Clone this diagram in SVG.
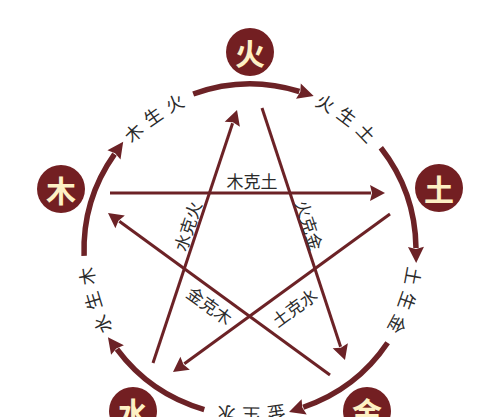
<svg xmlns="http://www.w3.org/2000/svg" xmlns:xlink="http://www.w3.org/1999/xlink" width="500" height="417" viewBox="0 0 500 417">
<style>
.ring{fill:none;stroke:#6c2226;stroke-width:5.5}
.kline{fill:none;stroke:#6c2226;stroke-width:3}
.node circle{fill:#731f22}
.node text{font-family:"Noto Sans CJK SC",sans-serif;font-size:30px;font-weight:700;fill:#fdf0c4;text-anchor:middle;dominant-baseline:central}
.lbl{font-family:"Noto Sans CJK SC",sans-serif;font-size:17px;fill:#2b2b2b;text-anchor:middle;dominant-baseline:central}
.sheng{font-size:18px;letter-spacing:7.5px}
</style>
<defs>
<marker id="ar" markerUnits="userSpaceOnUse" viewBox="0 -9 18 18" markerWidth="18" markerHeight="18" refX="1" refY="0" orient="auto" overflow="visible">
<path d="M0,-8 L16,0 L0,8 L2,0 z" fill="#6c2226"/>
</marker>
<marker id="ak" markerUnits="userSpaceOnUse" viewBox="0 -9 18 18" markerWidth="18" markerHeight="18" refX="1" refY="0" orient="auto" overflow="visible">
<path d="M0,-8 L15,0 L0,8 L2,0 z" fill="#6c2226"/>
</marker>
<path id="circ" d="M250,84 A166,166 0 1 1 250,416 A166,166 0 1 1 250,84"/>
</defs>
<rect width="500" height="417" fill="#ffffff"/>

<g id="connectors">
<path class="ring" marker-end="url(#ar)" d="M193.22,94.01 A166,166 0 0 1 299.37,91.50"/>
<path class="ring" marker-end="url(#ar)" d="M380.81,147.79 A166,166 0 0 1 415.99,247.97"/>
<path class="ring" marker-end="url(#ar)" d="M387.62,342.83 A166,166 0 0 1 303.22,407.24"/>
<path class="ring" marker-end="url(#ar)" d="M204.25,409.57 A166,166 0 0 1 116.90,349.20"/>
<path class="ring" marker-end="url(#ar)" d="M84.10,255.79 A166,166 0 0 1 114.53,154.07"/>

<path class="kline" marker-end="url(#ak)" d="M110,193 L371,193"/>
<path class="kline" marker-end="url(#ak)" d="M262,108 L340.6,346.7"/>
<path class="kline" marker-end="url(#ak)" d="M390,214 L184.3,363.8"/>
<path class="kline" marker-end="url(#ak)" d="M330,375 L119.3,221.3"/>
<path class="kline" marker-end="url(#ak)" d="M153,363 L232.6,123.3"/>
</g>

<g id="sheng-labels">
<text class="lbl sheng"><textPath xlink:href="#circ" href="#circ" startOffset="108">火生土</textPath></text>
<text class="lbl sheng"><textPath xlink:href="#circ" href="#circ" startOffset="316.7">土生金</textPath></text>
<text class="lbl sheng"><textPath xlink:href="#circ" href="#circ" startOffset="524">金生水</textPath></text>
<text class="lbl sheng"><textPath xlink:href="#circ" href="#circ" startOffset="733.9">水生木</textPath></text>
<text class="lbl sheng"><textPath xlink:href="#circ" href="#circ" startOffset="942.5">木生火</textPath></text>
</g>

<g id="ke-labels">
<text class="lbl" transform="translate(252,180)">木克土</text>
<text class="lbl" transform="translate(310,225) rotate(71.8)">火克金</text>
<text class="lbl" transform="translate(294,307) rotate(-36.1)">土克水</text>
<text class="lbl" transform="translate(210,305) rotate(36.1)">金克木</text>
<text class="lbl" transform="translate(187,226) rotate(-71.6)">水克火</text>
</g>

<g id="node-huo" class="node"><circle cx="250" cy="52" r="24"/><text x="250" y="52">火</text></g>
<g id="node-tu" class="node"><circle cx="439" cy="188" r="24"/><text x="439" y="188">土</text></g>
<g id="node-jin" class="node"><circle cx="367" cy="411" r="24"/><text x="367" y="411">金</text></g>
<g id="node-shui" class="node"><circle cx="133" cy="411" r="24"/><text x="133" y="411">水</text></g>
<g id="node-mu" class="node"><circle cx="61" cy="189" r="24"/><text x="61" y="189">木</text></g>
</svg>
